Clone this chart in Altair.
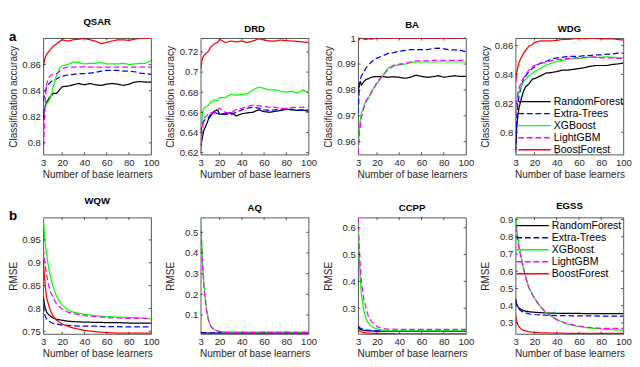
import altair as alt
import pandas as pd

MODELS = ["RandomForest", "Extra-Trees", "XGBoost", "LightGBM", "BoostForest"]
COLORS = ["#000000", "#0000ff", "#00ff00", "#ff00ff", "#ff0000"]
DASHES = [[1, 0], [6, 3], [1, 0], [6, 3], [1, 0]]

X_TOP = [3, 4, 5, 6, 8, 10, 12, 15, 18, 20, 25, 30, 35, 40, 45, 50, 55, 60, 65, 70, 75, 80, 85, 90, 95, 100]
X_BOT = [3, 4, 5, 6, 8, 10, 12, 15, 20, 25, 30, 40, 50, 60, 70, 80, 90, 100]
X_TICKS = [3, 20, 40, 60, 80, 100]

# ---- classification accuracy (panel a) ----
QSAR_RF = [0.818, 0.826, 0.829, 0.831, 0.834, 0.836, 0.838, 0.838, 0.841, 0.843, 0.8435, 0.8445, 0.8455, 0.8445, 0.8455, 0.8445, 0.844, 0.845, 0.8455, 0.845, 0.844, 0.845, 0.8465, 0.847, 0.8465, 0.8465]
QSAR_ET = [0.832, 0.836, 0.840, 0.843, 0.845, 0.847, 0.848, 0.849, 0.8505, 0.851, 0.852, 0.8525, 0.853, 0.853, 0.8535, 0.854, 0.855, 0.8555, 0.8555, 0.8555, 0.855, 0.855, 0.8545, 0.8535, 0.853, 0.8525]
QSAR_XGB = [0.826, 0.827, 0.828, 0.830, 0.832, 0.836, 0.843, 0.852, 0.858, 0.859, 0.860, 0.862, 0.8615, 0.8605, 0.861, 0.861, 0.8615, 0.8605, 0.8605, 0.8605, 0.861, 0.860, 0.8605, 0.861, 0.861, 0.863]
QSAR_LGBM = [0.791, 0.815, 0.835, 0.845, 0.850, 0.852, 0.8525, 0.853, 0.855, 0.857, 0.858, 0.858, 0.858, 0.8585, 0.858, 0.858, 0.858, 0.858, 0.858, 0.858, 0.858, 0.858, 0.858, 0.858, 0.858, 0.858]
QSAR_BF = [0.858, 0.863, 0.866, 0.868, 0.870, 0.872, 0.874, 0.876, 0.878, 0.879, 0.878, 0.879, 0.8795, 0.880, 0.879, 0.878, 0.876, 0.877, 0.878, 0.879, 0.879, 0.8785, 0.8795, 0.880, 0.880, 0.8802]

DRD_RF = [0.6261, 0.6321, 0.6382, 0.6428, 0.6473, 0.6534, 0.6565, 0.6610, 0.6625, 0.6580, 0.6589, 0.6595, 0.6565, 0.6586, 0.6595, 0.6601, 0.6625, 0.6607, 0.6601, 0.6610, 0.6619, 0.6632, 0.6625, 0.6619, 0.6625, 0.6610]
DRD_ET = [0.6397, 0.6458, 0.6489, 0.6519, 0.6534, 0.6549, 0.6580, 0.6601, 0.6589, 0.6580, 0.6580, 0.6580, 0.6601, 0.6625, 0.6641, 0.6650, 0.6641, 0.6625, 0.6619, 0.6625, 0.6632, 0.6625, 0.6632, 0.6625, 0.6619, 0.6625]
DRD_XGB = [0.6473, 0.6504, 0.6625, 0.6641, 0.6656, 0.6671, 0.6701, 0.6723, 0.6717, 0.6747, 0.6747, 0.6777, 0.6771, 0.6777, 0.6784, 0.6823, 0.6850, 0.6838, 0.6823, 0.6823, 0.6808, 0.6802, 0.6808, 0.6793, 0.6823, 0.6793]
DRD_LGBM = [0.620, 0.641, 0.650, 0.654, 0.6565, 0.658, 0.660, 0.659, 0.6625, 0.664, 0.660, 0.659, 0.663, 0.664, 0.666, 0.667, 0.6665, 0.666, 0.665, 0.665, 0.664, 0.664, 0.665, 0.665, 0.665, 0.666]
DRD_BF = [0.7027, 0.7112, 0.7148, 0.7167, 0.7188, 0.7209, 0.7249, 0.7279, 0.7294, 0.7325, 0.7294, 0.7309, 0.7300, 0.7309, 0.7294, 0.7309, 0.7331, 0.7319, 0.7309, 0.7309, 0.7319, 0.7312, 0.7309, 0.7306, 0.7300, 0.7294]

BA_RF = [0.9789, 0.9825, 0.9831, 0.9819, 0.9831, 0.9840, 0.9843, 0.9849, 0.9852, 0.9851, 0.9852, 0.9849, 0.9851, 0.9849, 0.9845, 0.9849, 0.9857, 0.9852, 0.9849, 0.9851, 0.9855, 0.9849, 0.9852, 0.9855, 0.9852, 0.9852]
BA_ET = [0.9711, 0.9807, 0.9843, 0.9855, 0.9869, 0.9884, 0.9896, 0.9908, 0.9920, 0.9923, 0.9932, 0.9941, 0.9944, 0.9950, 0.9953, 0.9956, 0.9956, 0.9956, 0.9956, 0.9960, 0.9962, 0.9959, 0.9955, 0.9955, 0.9953, 0.9948]
BA_XGB = [0.9568, 0.9652, 0.9687, 0.9711, 0.9735, 0.9759, 0.9765, 0.9795, 0.9813, 0.9825, 0.9855, 0.9884, 0.9896, 0.9896, 0.9900, 0.9905, 0.9908, 0.9908, 0.9908, 0.9908, 0.9908, 0.9908, 0.9908, 0.9908, 0.9908, 0.9908]
BA_LGBM = [0.9554, 0.9628, 0.9664, 0.9693, 0.9729, 0.9753, 0.9771, 0.9789, 0.9813, 0.9831, 0.9855, 0.9879, 0.9893, 0.9900, 0.9902, 0.9908, 0.9912, 0.9912, 0.9912, 0.9914, 0.9914, 0.9914, 0.9914, 0.9914, 0.9914, 0.9917]
BA_BF = [0.9990, 0.9995, 1.0, 1.0, 0.9997, 0.9995, 0.9998, 0.9996, 1.0, 1.0, 1.0, 1.0, 1.0, 1.0, 1.0, 1.0, 1.0, 1.0, 1.0, 1.0, 1.0, 1.0, 1.0, 1.0, 1.0, 1.0]

WDG_RF = [0.7879, 0.8028, 0.8112, 0.8165, 0.8229, 0.8282, 0.8314, 0.8335, 0.8367, 0.8371, 0.8388, 0.8409, 0.8413, 0.8420, 0.8430, 0.8430, 0.8435, 0.8441, 0.8447, 0.8456, 0.8462, 0.8462, 0.8462, 0.8469, 0.8473, 0.8479]
WDG_ET = [0.7858, 0.8091, 0.8197, 0.8250, 0.8314, 0.8367, 0.8388, 0.8420, 0.8441, 0.8452, 0.8477, 0.8490, 0.8505, 0.8515, 0.8519, 0.8526, 0.8526, 0.8526, 0.8530, 0.8530, 0.8536, 0.8536, 0.8541, 0.8541, 0.8547, 0.8547]
WDG_XGB = [0.8155, 0.8208, 0.8250, 0.8282, 0.8314, 0.8346, 0.8367, 0.8392, 0.8409, 0.8420, 0.8441, 0.8462, 0.8477, 0.8490, 0.8498, 0.8505, 0.8509, 0.8511, 0.8515, 0.8519, 0.8519, 0.8519, 0.8522, 0.8519, 0.8515, 0.8515]
WDG_LGBM = [0.8123, 0.8218, 0.8271, 0.8303, 0.8346, 0.8377, 0.8399, 0.8430, 0.8452, 0.8462, 0.8477, 0.8483, 0.8494, 0.8505, 0.8505, 0.8511, 0.8515, 0.8515, 0.8519, 0.8519, 0.8522, 0.8515, 0.8515, 0.8515, 0.8511, 0.8511]
WDG_BF = [0.8346, 0.8409, 0.8452, 0.8483, 0.8515, 0.8547, 0.8568, 0.8596, 0.8606, 0.8621, 0.8632, 0.8632, 0.8632, 0.8636, 0.8642, 0.8642, 0.8647, 0.8649, 0.8647, 0.8649, 0.8649, 0.8647, 0.8647, 0.8647, 0.8642, 0.8638]

# ---- RMSE (panel b) ----
WQW_RF = [0.826, 0.809, 0.799, 0.792, 0.786, 0.782, 0.779, 0.776, 0.774, 0.772, 0.771, 0.770, 0.7695, 0.769, 0.769, 0.768, 0.768, 0.768]
WQW_ET = [0.806, 0.789, 0.781, 0.777, 0.772, 0.769, 0.767, 0.7655, 0.7635, 0.763, 0.762, 0.761, 0.761, 0.760, 0.760, 0.7595, 0.7595, 0.7595]
WQW_XGB = [0.999, 0.963, 0.937, 0.917, 0.886, 0.863, 0.846, 0.826, 0.807, 0.797, 0.792, 0.787, 0.784, 0.782, 0.781, 0.780, 0.779, 0.777]
WQW_LGBM = [0.930, 0.910, 0.890, 0.873, 0.849, 0.833, 0.823, 0.809, 0.799, 0.792, 0.789, 0.784, 0.782, 0.780, 0.779, 0.778, 0.778, 0.778]
WQW_BF = [0.906, 0.870, 0.843, 0.823, 0.806, 0.792, 0.782, 0.774, 0.766, 0.761, 0.757, 0.752, 0.749, 0.747, 0.746, 0.746, 0.746, 0.746]

AQ_RF = [0.014, 0.013, 0.013, 0.012, 0.012, 0.012, 0.012, 0.012, 0.012, 0.012, 0.012, 0.012, 0.012, 0.012, 0.012, 0.012, 0.012, 0.012]
AQ_ET = [0.016, 0.015, 0.014, 0.014, 0.013, 0.013, 0.013, 0.013, 0.013, 0.013, 0.013, 0.013, 0.013, 0.013, 0.013, 0.013, 0.013, 0.013]
AQ_XGB = [0.571, 0.440, 0.329, 0.240, 0.136, 0.076, 0.047, 0.029, 0.020, 0.017, 0.017, 0.017, 0.017, 0.017, 0.017, 0.017, 0.017, 0.017]
AQ_LGBM = [0.507, 0.403, 0.307, 0.225, 0.128, 0.073, 0.045, 0.028, 0.019, 0.016, 0.016, 0.016, 0.016, 0.016, 0.016, 0.016, 0.016, 0.016]
AQ_BF = [0.010, 0.0095, 0.009, 0.0088, 0.0085, 0.0083, 0.0082, 0.008, 0.008, 0.008, 0.008, 0.008, 0.008, 0.008, 0.008, 0.0079, 0.0079, 0.0078]

CCPP_RF = [0.229, 0.224, 0.221, 0.219, 0.217, 0.216, 0.2155, 0.215, 0.2145, 0.214, 0.214, 0.2138, 0.2137, 0.2136, 0.2135, 0.2135, 0.2135, 0.2135]
CCPP_ET = [0.234, 0.229, 0.226, 0.224, 0.221, 0.219, 0.218, 0.217, 0.216, 0.2155, 0.215, 0.2148, 0.2145, 0.2143, 0.2142, 0.2141, 0.214, 0.214]
CCPP_XGB = [0.617, 0.485, 0.405, 0.348, 0.291, 0.262, 0.245, 0.231, 0.222, 0.218, 0.216, 0.215, 0.215, 0.215, 0.215, 0.215, 0.215, 0.215]
CCPP_LGBM = [0.638, 0.520, 0.451, 0.394, 0.336, 0.302, 0.273, 0.250, 0.231, 0.224, 0.222, 0.221, 0.221, 0.221, 0.221, 0.221, 0.221, 0.221]
CCPP_BF = [0.222, 0.216, 0.213, 0.211, 0.209, 0.208, 0.207, 0.2065, 0.206, 0.2055, 0.205, 0.2045, 0.2043, 0.2041, 0.204, 0.204, 0.2039, 0.2038]

EGSS_RF = [0.440, 0.410, 0.395, 0.387, 0.378, 0.372, 0.368, 0.365, 0.362, 0.360, 0.358, 0.356, 0.355, 0.355, 0.354, 0.354, 0.354, 0.354]
EGSS_ET = [0.430, 0.405, 0.390, 0.380, 0.370, 0.363, 0.358, 0.353, 0.349, 0.347, 0.345, 0.343, 0.342, 0.341, 0.341, 0.340, 0.340, 0.340]
EGSS_XGB = [0.911, 0.852, 0.799, 0.754, 0.683, 0.621, 0.567, 0.505, 0.443, 0.398, 0.363, 0.318, 0.292, 0.279, 0.270, 0.265, 0.261, 0.258]
EGSS_LGBM = [0.861, 0.816, 0.772, 0.736, 0.674, 0.617, 0.565, 0.503, 0.441, 0.397, 0.362, 0.319, 0.295, 0.282, 0.274, 0.269, 0.268, 0.268]
EGSS_BF = [0.345, 0.310, 0.290, 0.278, 0.265, 0.257, 0.253, 0.249, 0.245, 0.243, 0.242, 0.241, 0.240, 0.240, 0.2395, 0.2395, 0.239, 0.239]

W = 113
H = 122
FONT = "Liberation Sans"
AX = "#262626"


def panel(name, xs, series, ydom, yticks, ytitle, legend_orient=None, letter=None):
    rows = []
    for m, vals in zip(MODELS, series):
        for x, v in zip(xs, vals):
            rows.append({"n": x, "v": v, "model": m})
    df = pd.DataFrame(rows)
    xscale = alt.Scale(domain=[3, 100], nice=False, zero=False)
    yscale = alt.Scale(domain=ydom, nice=False, zero=False)
    xaxis = alt.Axis(values=X_TICKS, format="d", title="Number of base learners",
                     labelOverlap=False, labelFlush=False)
    yaxis = alt.Axis(values=yticks, format=".2~f", title=ytitle,
                     labelOverlap=False, labelFlush=False)
    if legend_orient:
        leg = alt.Legend(title=None, orient=legend_orient, symbolType="M-1,0H5",
                         symbolSize=128, symbolStrokeWidth=1.4, labelFontSize=11,
                         labelFont=FONT, labelColor="#000000", rowPadding=0.6,
                         padding=0, offset=0 if legend_orient.startswith("bottom") else 2,
                         labelOffset=25, symbolOffset=0)
    else:
        leg = None
    layers = []
    for m in MODELS:
        layers.append(
            alt.Chart(df).transform_filter(alt.datum.model == m)
            .mark_line(strokeWidth=1.3, clip=True)
            .encode(
                x=alt.X("n:Q", scale=xscale, axis=xaxis),
                y=alt.Y("v:Q", scale=yscale, axis=yaxis),
                color=alt.Color("model:N", scale=alt.Scale(domain=MODELS, range=COLORS), legend=leg),
                strokeDash=alt.StrokeDash("model:N", scale=alt.Scale(domain=MODELS, range=DASHES), legend=leg),
            )
        )
    xt = pd.DataFrame({"n": [20, 40, 60, 80]})
    yt = pd.DataFrame({"v": yticks})
    tick = dict(color=AX, strokeWidth=0.8)
    layers.append(alt.Chart(xt).mark_rule(**tick).encode(
        x=alt.X("n:Q", scale=xscale, axis=xaxis), y=alt.value(0), y2=alt.value(2.5)))
    layers.append(alt.Chart(xt).mark_rule(**tick).encode(
        x=alt.X("n:Q", scale=xscale, axis=xaxis), y=alt.value(H - 2.5), y2=alt.value(H)))
    layers.append(alt.Chart(yt).mark_rule(**tick).encode(
        y=alt.Y("v:Q", scale=yscale, axis=yaxis), x=alt.value(0), x2=alt.value(2.5)))
    layers.append(alt.Chart(yt).mark_rule(**tick).encode(
        y=alt.Y("v:Q", scale=yscale, axis=yaxis), x=alt.value(W - 2.5), x2=alt.value(W)))
    if letter:
        layers.append(alt.Chart(pd.DataFrame({"s": [letter]})).mark_text(
            font=FONT, fontSize=14, fontWeight="bold", align="left", baseline="alphabetic", color="#000000"
        ).encode(text="s:N", x=alt.value(-36), y=alt.value(3)))
    return alt.layer(*layers).properties(
        width=W, height=H,
        title=alt.TitleParams(name, fontSize=10, fontWeight="bold", font=FONT, color="#000000", offset=4),
    )


top = alt.hconcat(
    panel("QSAR", X_TOP, [QSAR_RF, QSAR_ET, QSAR_XGB, QSAR_LGBM, QSAR_BF], [0.791, 0.8802], [0.8, 0.82, 0.84, 0.86], "Classification accuracy", letter="a"),
    panel("DRD", X_TOP, [DRD_RF, DRD_ET, DRD_XGB, DRD_LGBM, DRD_BF], [0.618, 0.7337], [0.62, 0.64, 0.66, 0.68, 0.7, 0.72], "Classification accuracy"),
    panel("BA", X_TOP, [BA_RF, BA_ET, BA_XGB, BA_LGBM, BA_BF], [0.955, 1.0], [0.96, 0.97, 0.98, 0.99, 1.0], "Classification accuracy"),
    panel("WDG", X_TOP, [WDG_RF, WDG_ET, WDG_XGB, WDG_LGBM, WDG_BF], [0.7845, 0.8651], [0.8, 0.82, 0.84, 0.86], "Classification accuracy", legend_orient="bottom-right"),
    spacing=6,
).resolve_scale(color="independent", strokeDash="independent").resolve_legend(color="independent", strokeDash="independent")

bottom = alt.hconcat(
    panel("WQW", X_BOT, [WQW_RF, WQW_ET, WQW_XGB, WQW_LGBM, WQW_BF], [0.744, 0.999], [0.75, 0.8, 0.85, 0.9, 0.95], "RMSE", letter="b"),
    panel("AQ", X_BOT, [AQ_RF, AQ_ET, AQ_XGB, AQ_LGBM, AQ_BF], [0.0078, 0.5714], [0.1, 0.2, 0.3, 0.4, 0.5], "RMSE"),
    panel("CCPP", X_BOT, [CCPP_RF, CCPP_ET, CCPP_XGB, CCPP_LGBM, CCPP_BF], [0.2038, 0.6378], [0.3, 0.4, 0.5, 0.6], "RMSE"),
    panel("EGSS", X_BOT, [EGSS_RF, EGSS_ET, EGSS_XGB, EGSS_LGBM, EGSS_BF], [0.236, 0.911], [0.3, 0.4, 0.5, 0.6, 0.7, 0.8, 0.9], "RMSE", legend_orient="top-right"),
    spacing=6,
).resolve_scale(color="independent", strokeDash="independent").resolve_legend(color="independent", strokeDash="independent")

chart = alt.vconcat(top, bottom, spacing=16).resolve_scale(
    color="independent", strokeDash="independent"
).resolve_legend(color="independent", strokeDash="independent").properties(
    padding={"left": 0, "top": 0, "right": 0, "bottom": 0}
).configure_view(
    stroke=AX, strokeWidth=0.8
).configure_axis(
    domain=False, grid=False, ticks=False, tickSize=0,
    labelOverlap=False, labelFlush=False,
    labelFont=FONT, labelFontSize=10, labelColor=AX, labelPadding=3,
    titleFont=FONT, titleFontSize=10.5, titleFontWeight="normal", titleColor=AX,
).configure_axisY(
    minExtent=24, maxExtent=24, titlePadding=2
).configure_axisX(
    titlePadding=3
).configure_title(
    font=FONT
)

chart.save("out.html", embed_options={"renderer": "svg", "actions": False})
